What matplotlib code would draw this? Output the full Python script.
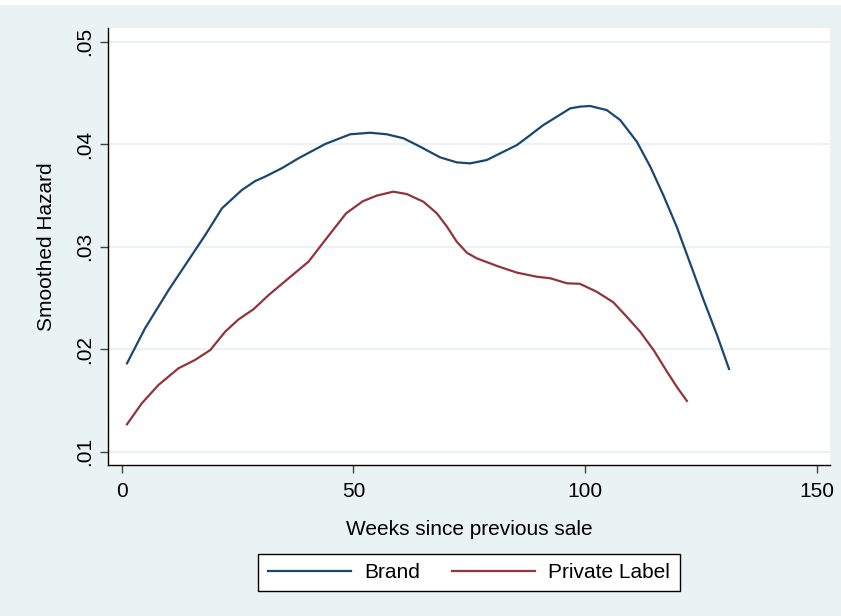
import matplotlib
matplotlib.use('Agg')
import matplotlib.pyplot as plt
from matplotlib.patches import Rectangle

# smoothed hazard estimates
brand_weeks = [1.1, 5.0, 10.1, 13.7, 18.0, 21.6, 25.9, 28.8, 30.9, 34.5, 38.1, 43.9,
               49.3, 53.6, 57.2, 60.8, 64.4, 68.7, 72.3, 75.2, 78.8, 82.4, 85.3,
               88.2, 91.0, 93.9, 96.8, 99.0, 101.1, 104.7, 107.6, 111.2, 114.1,
               116.9, 119.8, 122.7, 125.6, 128.5, 131.1]
brand_hazard = [.01862, .02204, .02578, .02822, .03114, .03374, .03553, .03641, .03683,
                .03765, .03862, .04002, .04097, .04112, .04097, .04058, .03976, .03872,
                .03823, .03813, .03846, .03927, .03992, .0409, .04187, .04268, .0435,
                .04367, .04373, .04333, .04236, .04024, .0378, .03504, .03195, .02838,
                .0248, .02139, .01807]

pl_weeks = [1.1, 4.3, 7.9, 12.2, 15.8, 19.1, 22.3, 25.2, 28.4, 31.7, 36.0, 40.3, 43.9,
            48.4, 52.0, 55.0, 58.6, 61.5, 65.1, 68.0, 70.2, 72.3, 74.5, 76.6, 81.0,
            85.3, 89.6, 92.5, 96.1, 98.9, 102.5, 106.1, 109.0, 111.9, 114.8, 117.7,
            119.8, 122.0]
pl_hazard = [.01267, .01472, .01651, .01813, .01895, .01992, .02171, .02291, .02389,
             .02529, .02692, .02854, .03065, .03325, .03443, .03498, .03537, .03514,
             .03439, .03326, .03195, .03049, .02941, .02887, .02812, .02747, .02707,
             .02692, .02643, .02638, .02561, .02458, .02317, .02171, .01992, .01781,
             .01634, .01495]

x_ticks = [0, 50, 100, 150]
y_ticks = [.01, .02, .03, .04, .05]
y_tick_labels = ['.01', '.02', '.03', '.04', '.05']

plt.rcParams['font.family'] = ['Liberation Sans', 'DejaVu Sans']

bg = '#EAF2F3'
fig = plt.figure(figsize=(8.41, 6.16), dpi=100, facecolor=bg)
# thin white strip along the top edge
fig.patches.append(Rectangle((0, 611 / 616), 1, 5 / 616, transform=fig.transFigure,
                             facecolor='white', edgecolor='none', zorder=0))

ax = fig.add_axes([108 / 841, 1 - 465 / 616, 722 / 841, 437 / 616])
ax.set_facecolor('white')

ax.plot(brand_weeks, brand_hazard, color='#1A476F', lw=1.6, label='Brand')
ax.plot(pl_weeks, pl_hazard, color='#90353B', lw=1.6, label='Private Label')

ax.set_xlim(-3.0, 152.9)
ax.set_ylim(0.0087, 0.05134)
ax.set_xticks(x_ticks)
ax.set_yticks(y_ticks)
ax.set_yticklabels(y_tick_labels, rotation=90, va='center')

ax.grid(axis='y', color=bg, lw=1.5)
ax.set_axisbelow(True)

for side in ['top', 'right']:
    ax.spines[side].set_visible(False)
for side in ['left', 'bottom']:
    ax.spines[side].set_color('black')
    ax.spines[side].set_linewidth(1.0)

ax.tick_params(axis='both', length=6, width=1, color='#444444', labelsize=15)
ax.tick_params(axis='x', pad=6)
ax.tick_params(axis='y', pad=4)

ax.set_xlabel('Weeks since previous sale', fontsize=15, labelpad=14)
ax.set_ylabel('Smoothed Hazard', fontsize=15, labelpad=14)

fig.legend(loc='center', bbox_to_anchor=(469 / 841, 1 - 572.5 / 616), ncol=2,
           fontsize=15, frameon=True, fancybox=False, edgecolor='black',
           facecolor='white', framealpha=1, handlelength=4.0, handletextpad=0.65,
           columnspacing=1.5, borderpad=0.45)

plt.savefig('out.png', dpi=100, facecolor=bg)
